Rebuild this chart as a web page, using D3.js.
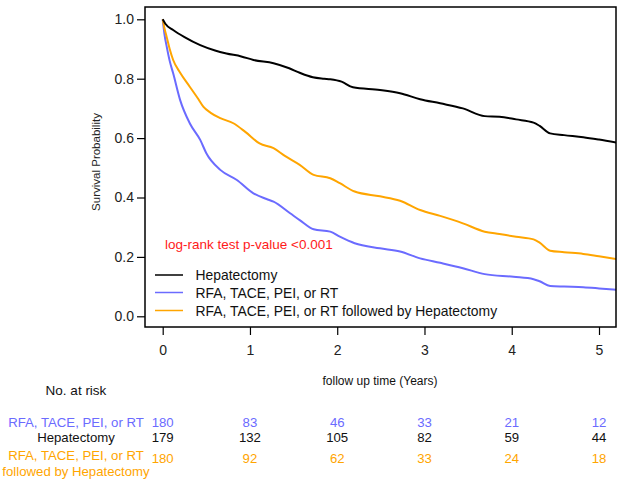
<!DOCTYPE html>
<html>
<head>
<meta charset="utf-8">
<script src="https://cdn.jsdelivr.net/npm/d3@7"></script>
<style>
  html, body { margin: 0; padding: 0; background: #fff; }
  svg { display: block; font-family: "Liberation Sans", Arial, sans-serif; }
</style>
</head>
<body>
<svg id="chart" width="622" height="483"></svg>
<script>
// ---- Data ----
const seriesNames = ["Hepatectomy", "RFA, TACE, PEI, or RT", "RFA, TACE, PEI, or RT followed by Hepatectomy"];
const seriesColors = ["#000000", "#6B6BFF", "#FFA500"];

const hepTime = [0, 0.03, 0.12, 0.25, 0.43, 0.6, 0.73, 0.9, 1.04, 1.27, 1.45, 1.57, 1.72, 1.85, 1.92, 2.05, 2.18, 2.49, 2.72, 2.95, 3.18, 3.44, 3.69, 3.86, 4.05, 4.25, 4.32, 4.44, 4.6, 4.82, 5.0, 5.2];
const hepSurv = [1.0, 0.985, 0.964, 0.94, 0.913, 0.895, 0.885, 0.875, 0.863, 0.852, 0.835, 0.82, 0.805, 0.80, 0.798, 0.79, 0.771, 0.762, 0.751, 0.731, 0.717, 0.70, 0.674, 0.672, 0.663, 0.652, 0.641, 0.616, 0.61, 0.603, 0.595, 0.585];

const locTime = [0, 0.02, 0.046, 0.08, 0.12, 0.2, 0.31, 0.43, 0.5, 0.66, 0.85, 1.04, 1.19, 1.27, 1.46, 1.57, 1.73, 1.92, 2.03, 2.2, 2.49, 2.72, 2.95, 3.18, 3.44, 3.69, 4.02, 4.25, 4.32, 4.44, 4.6, 4.82, 5.0, 5.2];
const locSurv = [1.0, 0.95, 0.908, 0.86, 0.818, 0.728, 0.65, 0.594, 0.549, 0.493, 0.459, 0.414, 0.395, 0.386, 0.347, 0.324, 0.293, 0.285, 0.268, 0.246, 0.229, 0.218, 0.195, 0.18, 0.162, 0.142, 0.133, 0.125, 0.118, 0.102, 0.1, 0.098, 0.094, 0.089];

const seqTime = [0, 0.02, 0.046, 0.08, 0.12, 0.2, 0.31, 0.4, 0.465, 0.55, 0.66, 0.81, 0.95, 1.11, 1.27, 1.4, 1.57, 1.73, 1.92, 2.03, 2.2, 2.49, 2.72, 2.95, 3.18, 3.44, 3.69, 3.86, 4.05, 4.25, 4.32, 4.44, 4.6, 4.82, 5.0, 5.2];
const seqSurv = [1.0, 0.97, 0.94, 0.90, 0.863, 0.82, 0.773, 0.735, 0.706, 0.685, 0.667, 0.65, 0.62, 0.582, 0.566, 0.54, 0.51, 0.476, 0.465, 0.448, 0.42, 0.404, 0.389, 0.358, 0.338, 0.313, 0.285, 0.277, 0.268, 0.259, 0.248, 0.221, 0.216, 0.21, 0.202, 0.193];

const xTicks = [0, 1, 2, 3, 4, 5];
const yTicks = [0.0, 0.2, 0.4, 0.6, 0.8, 1.0];

const riskLoc = [180, 83, 46, 33, 21, 12];
const riskHep = [179, 132, 105, 82, 59, 44];
const riskSeq = [180, 92, 62, 33, 24, 18];

// ---- Layout ----
const svg = d3.select("#chart");
const box = { left: 145, right: 616, top: 7, bottom: 327 };
const x = d3.scaleLinear().domain([0, 5]).range([162.7, 599]);
const y = d3.scaleLinear().domain([0, 1]).range([316.3, 19.3]);

svg.append("defs").append("clipPath").attr("id", "clip")
  .append("rect").attr("x", box.left).attr("y", box.top)
  .attr("width", box.right - box.left).attr("height", box.bottom - box.top);

// Curves
const curves = [
  { t: hepTime, s: hepSurv, c: seriesColors[0] },
  { t: locTime, s: locSurv, c: seriesColors[1] },
  { t: seqTime, s: seqSurv, c: seriesColors[2] }
];
const line = d3.line().x(d => x(d[0])).y(d => y(d[1])).curve(d3.curveMonotoneX);
const gCurves = svg.append("g").attr("clip-path", "url(#clip)");
[1, 2, 0].forEach(i => {
  const cv = curves[i];
  gCurves.append("path")
    .datum(cv.t.map((t, k) => [t, cv.s[k]]))
    .attr("fill", "none").attr("stroke", cv.c).attr("stroke-width", 2)
    .attr("stroke-linejoin", "round")
    .attr("d", line);
});

// Box
svg.append("rect").attr("x", box.left).attr("y", box.top)
  .attr("width", box.right - box.left).attr("height", box.bottom - box.top)
  .attr("fill", "none").attr("stroke", "#000").attr("stroke-width", 1.5);

// Y axis
const yAxis = d3.axisLeft(y).tickValues(yTicks).tickFormat(d3.format(".1f")).tickSize(8).tickPadding(3);
const gy = svg.append("g").attr("transform", `translate(${box.left},0)`).call(yAxis);
gy.select(".domain").remove();
gy.selectAll(".tick line").attr("stroke", "#000").attr("stroke-width", 1.2);
gy.selectAll(".tick text").attr("font-size", 14).attr("fill", "#222")
  .attr("font-family", "'Liberation Sans', Arial, sans-serif");

// X axis
const xAxis = d3.axisBottom(x).tickValues(xTicks).tickFormat(d3.format("d")).tickSize(8).tickPadding(10);
const gx = svg.append("g").attr("transform", `translate(0,${box.bottom})`).call(xAxis);
gx.select(".domain").remove();
gx.selectAll(".tick line").attr("stroke", "#000").attr("stroke-width", 1.2);
gx.selectAll(".tick text").attr("font-size", 14).attr("fill", "#222")
  .attr("font-family", "'Liberation Sans', Arial, sans-serif");

// Axis titles
svg.append("text").attr("transform", "translate(99.5,162) rotate(-90)")
  .attr("text-anchor", "middle").attr("font-size", 11.5).attr("fill", "#222")
  .text("Survival Probability");
svg.append("text").attr("x", 380).attr("y", 385)
  .attr("text-anchor", "middle").attr("font-size", 12).attr("fill", "#111")
  .text("follow up time (Years)");

// p-value
svg.append("text").attr("x", 165).attr("y", 249)
  .attr("font-size", 13.5).attr("fill", "#FF1A1A")
  .text("log-rank test p-value <0.001");

// Legend
const legY = [275, 292.5, 310.5];
seriesNames.forEach((name, i) => {
  svg.append("line").attr("x1", 155).attr("x2", 183)
    .attr("y1", legY[i]).attr("y2", legY[i])
    .attr("stroke", seriesColors[i]).attr("stroke-width", 1.5);
  svg.append("text").attr("x", 195.5).attr("y", legY[i] + 5)
    .attr("font-size", 13.9).attr("fill", "#111").text(name);
});

// Risk table
svg.append("text").attr("x", 76).attr("y", 395)
  .attr("text-anchor", "middle").attr("font-size", 13.5).attr("fill", "#111")
  .text("No. at risk");

const rows = [
  { vals: riskLoc, c: seriesColors[1], y: 426.5, label: ["RFA, TACE, PEI, or RT"], ly: [426.5] },
  { vals: riskHep, c: "#111", y: 442, label: ["Hepatectomy"], ly: [442] },
  { vals: riskSeq, c: seriesColors[2], y: 463, label: ["RFA, TACE, PEI, or RT", "followed by Hepatectomy"], ly: [460, 476] }
];
rows.forEach(r => {
  r.label.forEach((lb, k) => {
    svg.append("text").attr("x", 76).attr("y", r.ly[k])
      .attr("text-anchor", "middle").attr("font-size", 13.2).attr("fill", r.c).text(lb);
  });
  r.vals.forEach((v, k) => {
    svg.append("text").attr("x", x(xTicks[k])).attr("y", r.y)
      .attr("text-anchor", "middle").attr("font-size", 13.2).attr("fill", r.c).text(v);
  });
});
</script>
</body>
</html>
